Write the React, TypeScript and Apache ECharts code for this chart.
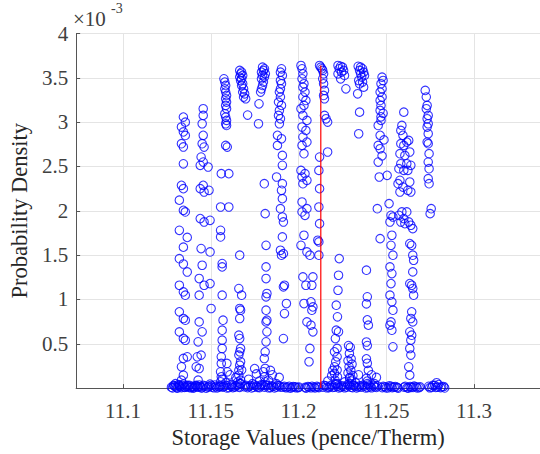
import React, { useEffect, useRef } from "react";
import * as echarts from "echarts";

// ---- data (y values in units of 1e-3) ----
const xTickValues = [11.1, 11.15, 11.2, 11.25, 11.3];
const yTickValues = [0.5, 1, 1.5, 2, 2.5, 3, 3.5, 4];
const redLineX = 11.2127;
const redLineY = [0, 3.64];

const col1 = [[11.1344,3.057],[11.1355,3.0],[11.1333,2.945],[11.1344,2.89],[11.1355,2.85],[11.1333,2.757],[11.1344,2.72],[11.1344,2.53],[11.1333,2.287],[11.1344,2.25],[11.1321,2.12],[11.1344,2.005],[11.1355,1.987],[11.1321,1.78],[11.1366,1.7],[11.1344,1.59],[11.1321,1.46],[11.1344,1.4],[11.1366,1.31],[11.1321,1.16],[11.1344,1.085],[11.1355,1.048],[11.1321,0.86],[11.1344,0.785],[11.1355,0.766],[11.1321,0.634],[11.1344,0.56],[11.1355,0.54],[11.1366,0.353],[11.1344,0.335],[11.1333,0.24],[11.1344,0.146],[11.1333,0.09],[11.1321,0.034]];
const col2 = [[11.1457,3.151],[11.1457,3.076],[11.1451,2.982],[11.1457,2.851],[11.1451,2.757],[11.1462,2.719],[11.1445,2.606],[11.1457,2.55],[11.144,2.513],[11.1485,2.494],[11.1457,2.287],[11.144,2.25],[11.149,2.231],[11.1462,2.212],[11.144,1.912],[11.1496,1.893],[11.1462,1.874],[11.1445,1.574],[11.1496,1.536],[11.1451,1.386],[11.1434,1.236],[11.1496,1.179],[11.1462,1.16],[11.1434,1.048],[11.1502,0.898],[11.1434,0.747],[11.1451,0.635],[11.1428,0.522],[11.1445,0.372],[11.1423,0.353],[11.1417,0.24],[11.1434,0.221],[11.1428,0.09]];
const col3 = [[11.1575,3.489],[11.158,3.452],[11.1585,3.414],[11.158,3.376],[11.1585,3.339],[11.159,3.301],[11.1585,3.264],[11.159,3.226],[11.1585,3.189],[11.159,3.151],[11.158,3.095],[11.1585,3.057],[11.159,3.02],[11.1585,2.982],[11.159,2.963],[11.1585,2.738],[11.1594,2.719],[11.156,2.419],[11.1603,2.419],[11.1556,2.043],[11.1603,2.043],[11.1556,1.78],[11.1556,1.705],[11.1565,1.405],[11.1565,1.367],[11.1565,1.048],[11.157,0.766],[11.1565,0.653],[11.1565,0.541],[11.1565,0.447],[11.156,0.353],[11.156,0.278],[11.1592,0.278],[11.1556,0.184],[11.1594,0.184],[11.156,0.127],[11.1556,0.071]];
const col4 = [[11.1665,3.583],[11.1676,3.564],[11.167,3.545],[11.1682,3.527],[11.1665,3.508],[11.1676,3.489],[11.167,3.47],[11.1682,3.433],[11.1676,3.414],[11.1687,3.376],[11.1682,3.339],[11.1693,3.32],[11.1687,3.283],[11.1699,3.264],[11.171,3.08],[11.1665,1.499],[11.166,1.123],[11.1676,1.048],[11.1665,0.898],[11.167,0.879],[11.1665,0.785],[11.166,0.597],[11.1665,0.559],[11.167,0.447],[11.1665,0.409],[11.166,0.372],[11.167,0.297],[11.1665,0.259],[11.1676,0.203],[11.166,0.146],[11.167,0.09],[11.1665,0.052]];
const col5 = [[11.1795,3.62],[11.1806,3.602],[11.18,3.583],[11.1789,3.564],[11.1811,3.545],[11.1795,3.527],[11.1806,3.508],[11.1789,3.489],[11.18,3.452],[11.1795,3.414],[11.1789,3.376],[11.1784,3.339],[11.1775,3.207],[11.1772,2.982],[11.1805,2.306],[11.181,1.968],[11.1815,1.611],[11.1815,1.367],[11.1815,1.236],[11.182,1.067],[11.1815,1.029],[11.1815,0.879],[11.182,0.766],[11.1815,0.747],[11.182,0.635],[11.1815,0.522],[11.181,0.409],[11.1805,0.334],[11.181,0.221],[11.18,0.184],[11.1805,0.127],[11.181,0.071],[11.18,0.034]];
const col6 = [[11.1903,3.602],[11.1897,3.564],[11.1908,3.527],[11.1897,3.47],[11.1903,3.433],[11.1897,3.376],[11.1891,3.339],[11.1897,3.283],[11.1886,3.226],[11.1903,3.189],[11.1891,3.132],[11.1886,3.076],[11.1897,3.038],[11.1891,2.982],[11.188,2.851],[11.1903,2.813],[11.188,2.738],[11.1908,2.625],[11.1908,2.513],[11.1875,2.381],[11.1908,2.306],[11.1903,2.231],[11.1908,2.137],[11.1897,2.024],[11.1908,1.93],[11.1914,1.874],[11.1908,1.705],[11.1897,1.555],[11.1914,1.517],[11.1903,1.499],[11.192,1.16],[11.1914,1.142],[11.1931,0.954],[11.192,0.841],[11.1914,0.559]];
const col7 = [[11.2014,3.639],[11.202,3.602],[11.2025,3.545],[11.202,3.489],[11.2031,3.433],[11.2025,3.395],[11.2037,3.339],[11.2025,3.283],[11.2042,3.245],[11.2031,3.189],[11.2014,3.151],[11.2025,3.076],[11.2048,3.02],[11.202,2.945],[11.2042,2.907],[11.2025,2.832],[11.2048,2.775],[11.202,2.738],[11.2031,2.644],[11.2014,2.456],[11.2037,2.419],[11.202,2.381],[11.2048,2.344],[11.2025,2.306],[11.202,2.099],[11.2048,2.024],[11.202,1.987],[11.2037,1.949],[11.2031,1.724],[11.2014,1.611],[11.2048,1.536],[11.2025,1.254],[11.2042,1.16],[11.2031,0.954],[11.2048,0.747],[11.2065,1.499],[11.2082,1.254],[11.2076,1.16],[11.2071,0.973],[11.2082,0.916],[11.2076,0.879],[11.2071,0.71],[11.2082,0.635],[11.2065,0.447],[11.206,0.297]];
const col8 = [[11.212,3.639],[11.2127,3.62],[11.2133,3.602],[11.2138,3.583],[11.2143,3.545],[11.2138,3.489],[11.2143,3.433],[11.2148,3.358],[11.2143,3.301],[11.2148,3.264],[11.2148,3.076],[11.2157,3.038],[11.2166,3.001],[11.2166,2.663],[11.212,2.606],[11.2116,2.456],[11.212,2.25],[11.2116,2.043],[11.212,1.855],[11.211,1.668],[11.2116,1.649],[11.2116,1.499]];
const col9 = [[11.2225,3.639],[11.224,3.63],[11.2251,3.62],[11.2232,3.602],[11.2257,3.583],[11.2245,3.564],[11.2225,3.545],[11.2262,3.527],[11.224,3.489],[11.227,3.376],[11.2232,1.461],[11.2228,1.273],[11.2225,1.104],[11.2215,0.935],[11.2222,0.804],[11.2215,0.653],[11.2228,0.635],[11.221,0.559],[11.222,0.447],[11.2205,0.409],[11.222,0.353],[11.2212,0.297],[11.2205,0.24],[11.222,0.203],[11.2205,0.165],[11.2222,0.127],[11.2208,0.09],[11.222,0.052]];
const col10 = [[11.234,3.63],[11.2354,3.62],[11.2365,3.602],[11.2348,3.583],[11.2371,3.564],[11.2354,3.545],[11.2376,3.527],[11.236,3.508],[11.2343,3.47],[11.2365,3.452],[11.2348,3.433],[11.2371,3.395],[11.2337,3.32],[11.2348,3.113],[11.2343,2.869],[11.2285,0.48],[11.2295,0.46],[11.229,0.39],[11.23,0.33],[11.2282,0.31],[11.2305,0.27],[11.2288,0.24],[11.2298,0.2],[11.2282,0.17],[11.231,0.14],[11.2292,0.11],[11.2302,0.08],[11.2288,0.05],[11.2315,0.03],[11.2387,1.33],[11.2392,1.03],[11.2387,0.95],[11.2392,0.77],[11.2398,0.71],[11.2387,0.52],[11.2392,0.48],[11.2387,0.33],[11.2392,0.28],[11.2398,0.2],[11.2387,0.11],[11.2392,0.05]];
const col11 = [[11.2476,3.508],[11.2482,3.47],[11.247,3.433],[11.2476,3.376],[11.2465,3.339],[11.2476,3.283],[11.2465,3.245],[11.247,3.189],[11.2465,3.132],[11.2482,3.1],[11.247,3.06],[11.247,3.02],[11.2454,2.963],[11.2465,2.851],[11.2487,2.8],[11.2454,2.738],[11.2465,2.7],[11.2476,2.62],[11.2454,2.55],[11.246,2.381],[11.2449,2.024],[11.2465,1.686]];
const col12 = [[11.2505,2.4],[11.2516,2.081],[11.2527,1.949],[11.2538,1.93],[11.2521,1.874],[11.2532,1.724],[11.2527,1.611],[11.2538,1.499],[11.2521,1.367],[11.2532,1.292],[11.2527,1.179],[11.2521,1.048],[11.2532,0.973],[11.2538,0.879],[11.2527,0.747],[11.2521,0.71],[11.2532,0.653],[11.2538,0.466]];
const col13 = [[11.26,3.113],[11.2589,2.963],[11.2583,2.907],[11.2595,2.851],[11.2583,2.757],[11.26,2.738],[11.2578,2.644],[11.2606,2.625],[11.2583,2.531],[11.2572,2.475],[11.26,2.456],[11.2578,2.344],[11.2567,2.306],[11.2595,2.268],[11.2578,2.212],[11.2589,1.987],[11.2572,1.949],[11.26,1.912],[11.2583,1.874],[11.2606,1.855]];
const col13b = [[11.2628,2.794],[11.2617,2.775],[11.2634,2.663],[11.2617,2.531],[11.264,2.513],[11.2623,2.456],[11.2634,2.325],[11.2623,2.231],[11.264,2.212],[11.2617,1.987],[11.2628,1.874],[11.264,1.837],[11.2651,1.799],[11.2634,1.63],[11.2645,1.611],[11.2651,1.499],[11.2656,1.442],[11.2651,1.311],[11.2634,1.179],[11.2645,1.16],[11.2651,1.123],[11.2656,1.048],[11.2645,0.86],[11.264,0.785],[11.2651,0.747],[11.2634,0.635],[11.2645,0.597],[11.264,0.541],[11.2634,0.447],[11.264,0.372],[11.2628,0.24],[11.2634,0.146]];
const col14 = [[11.2722,3.358],[11.2728,3.283],[11.2733,3.189],[11.2728,3.151],[11.2739,3.076],[11.2733,3.038],[11.2739,2.982],[11.2733,2.945],[11.2739,2.869],[11.2733,2.775],[11.2739,2.757],[11.2744,2.644],[11.2739,2.55],[11.2744,2.475],[11.2739,2.362],[11.2744,2.306],[11.2756,2.024],[11.275,1.968]];
const lowStack = [[11.1565,0.1],[11.1586,0.06],[11.1609,0.15],[11.1643,0.12],[11.166,0.2],[11.1654,0.07],[11.162,0.04],[11.1716,0.1],[11.1738,0.05],[11.176,0.16],[11.1778,0.08],[11.175,0.22],[11.1829,0.09],[11.1851,0.15],[11.1874,0.05],[11.189,0.12],[11.184,0.2],[11.2167,0.08],[11.2189,0.14],[11.2212,0.05],[11.2195,0.2],[11.2263,0.07],[11.2291,0.12],[11.2325,0.06],[11.2342,0.15],[11.2393,0.08],[11.2416,0.15],[11.2433,0.05],[11.2444,0.12]];
const baseCluster = [[11.1276,0.01],[11.1293,0.025],[11.1305,0.005],[11.1316,0.04],[11.1327,0.015],[11.1338,0.03],[11.135,0.008],[11.1361,0.02],[11.1372,0.012],[11.1384,0.004],[11.1395,0.02],[11.1406,0.008],[11.1417,0.03],[11.1428,0.01],[11.144,0.018],[11.1451,0.006],[11.1468,0.022],[11.1485,0.01],[11.1502,0.03],[11.1518,0.004],[11.153,0.018],[11.1547,0.012],[11.1558,0.025],[11.1569,0.01],[11.1586,0.03],[11.1603,0.006],[11.162,0.02],[11.1637,0.012],[11.1654,0.035],[11.1665,0.008],[11.1693,0.015],[11.171,0.005],[11.1727,0.028],[11.1744,0.01],[11.1761,0.022],[11.1778,0.006],[11.1789,0.04],[11.1806,0.012],[11.1823,0.03],[11.184,0.006],[11.1857,0.02],[11.1874,0.01],[11.1891,0.025],[11.1913,0.01],[11.193,0.004],[11.1947,0.02],[11.1964,0.008],[11.1981,0.015],[11.1998,0.006],[11.2037,0.008],[11.2054,0.018],[11.2071,0.004],[11.2088,0.012],[11.2105,0.02],[11.2116,0.006],[11.2139,0.01],[11.2156,0.025],[11.2173,0.006],[11.2189,0.035],[11.2206,0.012],[11.2223,0.02],[11.224,0.008],[11.2257,0.02],[11.2274,0.01],[11.2291,0.03],[11.2308,0.006],[11.2325,0.018],[11.2342,0.012],[11.2359,0.01],[11.2376,0.022],[11.2393,0.006],[11.241,0.015],[11.2427,0.03],[11.2444,0.008],[11.2477,0.006],[11.2494,0.015],[11.2511,0.004],[11.2528,0.02],[11.2545,0.01],[11.2562,0.008],[11.2602,0.01],[11.2619,0.005],[11.2636,0.018],[11.2653,0.008],[11.267,0.015],[11.2687,0.006],[11.2742,0.02],[11.2759,0.008],[11.2776,0.03],[11.2793,0.012],[11.281,0.005],[11.2827,0.018]];
const baseCluster2 = [[11.1282,0.002],[11.1288,0.03],[11.1299,0.015],[11.131,0.0],[11.1321,0.025],[11.1333,0.005],[11.1344,0.045],[11.1355,0.01],[11.1366,0.03],[11.1299,0.05],[11.1378,0.03],[11.139,0.01],[11.14,0.0],[11.1412,0.025],[11.1423,0.015],[11.1434,0.035],[11.1446,0.002],[11.1457,0.03],[11.1474,0.0],[11.149,0.02],[11.1507,0.012],[11.1524,0.035],[11.1536,0.002],[11.1552,0.02],[11.1496,0.045],[11.1575,0.02],[11.1592,0.002],[11.1609,0.035],[11.1626,0.005],[11.1643,0.025],[11.166,0.015],[11.1671,0.05],[11.1699,0.03],[11.1716,0.018],[11.1733,0.002],[11.175,0.035],[11.1767,0.008],[11.1784,0.025],[11.1812,0.035],[11.1829,0.004],[11.1846,0.025],[11.1863,0.002],[11.188,0.03],[11.1897,0.01],[11.1919,0.02],[11.1936,0.012],[11.1953,0.0],[11.197,0.018],[11.1987,0.004],[11.2003,0.012],[11.2043,0.0],[11.206,0.01],[11.2077,0.02],[11.2094,0.002],[11.211,0.012],[11.2145,0.03],[11.2162,0.004],[11.2179,0.02],[11.2195,0.008],[11.2212,0.04],[11.2229,0.002],[11.2246,0.025],[11.2263,0.004],[11.228,0.04],[11.2297,0.01],[11.2314,0.03],[11.2331,0.002],[11.2348,0.025],[11.2365,0.03],[11.2382,0.002],[11.2399,0.035],[11.2416,0.004],[11.2433,0.015],[11.245,0.025],[11.2483,0.02],[11.25,0.002],[11.2517,0.025],[11.2534,0.006],[11.2551,0.018],[11.2568,0.0],[11.2608,0.02],[11.2625,0.0],[11.2642,0.008],[11.2659,0.022],[11.2676,0.002],[11.2693,0.014],[11.2748,0.004],[11.2765,0.03],[11.2782,0.008],[11.2799,0.04],[11.2816,0.015],[11.2833,0.002],[11.2787,0.06]];

const FONT = "'Liberation Serif', 'Times New Roman', serif";

export default function App() {
  const ref = useRef<HTMLDivElement>(null);
  useEffect(() => {
    if (!ref.current) return;
    const chart = echarts.init(ref.current, null, { renderer: "svg" });
    const points = [
      ...col1, ...col2, ...col3, ...col4, ...col5, ...col6, ...col7,
      ...col8, ...col9, ...col10, ...col11, ...col12, ...col13, ...col13b, ...col14,
      ...lowStack, ...baseCluster, ...baseCluster2,
    ];
    const fmt = (v: number) => String(Math.round(v * 1000) / 1000);
    chart.setOption({
      animation: false,
      backgroundColor: "#ffffff",
      grid: { left: 71, right: 0, top: 33.5, bottom: 65.7, containLabel: false },
      xAxis: {
        type: "value",
        min: 11.0733,
        max: 11.3376,
        splitNumber: 5,
        minInterval: 0.05,
        maxInterval: 0.05,
        name: "Storage Values (pence/Therm)",
        nameLocation: "middle",
        nameGap: 37,
        nameTextStyle: { fontFamily: FONT, fontSize: 22.5, color: "#262626" },
        axisLine: { show: true, onZero: false, lineStyle: { color: "#555555", width: 1 } },
        axisTick: {
          show: true, inside: true, length: 4,
          lineStyle: { color: "#555555" },
          customValues: xTickValues,
        },
        axisLabel: {
          fontFamily: FONT, fontSize: 21, color: "#404040", margin: 12,
          showMinLabel: false, showMaxLabel: false,
          formatter: (v: number) => (xTickValues.some((t) => Math.abs(t - v) < 1e-6) ? fmt(v) : ""),
        },
        splitLine: { show: true, lineStyle: { color: "#e4e4e4", width: 1 } },
      },
      yAxis: {
        type: "value",
        min: 0,
        max: 4,
        interval: 0.5,
        name: "Probability Density",
        nameLocation: "middle",
        nameGap: 39,
        nameTextStyle: { fontFamily: FONT, fontSize: 22.5, color: "#262626" },
        axisLine: { show: true, onZero: false, lineStyle: { color: "#555555", width: 1 } },
        axisTick: { show: true, inside: true, length: 4, lineStyle: { color: "#555555" } },
        axisLabel: {
          fontFamily: FONT, fontSize: 21, color: "#404040", margin: 8,
          showMinLabel: false,
          formatter: (v: number) => (yTickValues.some((t) => Math.abs(t - v) < 1e-9) ? fmt(v) : ""),
        },
        splitLine: { show: true, lineStyle: { color: "#e4e4e4", width: 1 } },
      },
      graphic: [
        { type: "text", left: 73, top: 8, style: { text: "×10", font: `21px ${FONT}`, fill: "#404040" } },
        { type: "text", left: 111, top: 1, style: { text: "-3", font: `14px ${FONT}`, fill: "#404040" } },
      ],
      series: [
        {
          type: "scatter",
          data: points,
          symbol: "circle",
          symbolSize: 8.5,
          silent: true,
          itemStyle: { color: "rgba(0,0,0,0)", borderColor: "#0000ff", borderWidth: 1.1 },
          z: 2,
        },
        {
          type: "line",
          data: [[redLineX, redLineY[0]], [redLineX, redLineY[1]]],
          symbol: "none",
          silent: true,
          lineStyle: { color: "#ff0000", width: 1.2 },
          z: 3,
        },
      ],
    });
    return () => chart.dispose();
  }, []);
  return (
    <div
      ref={ref}
      style={{ position: "fixed", left: 0, top: 0, width: 540, height: 454, background: "#fff" }}
    />
  );
}
